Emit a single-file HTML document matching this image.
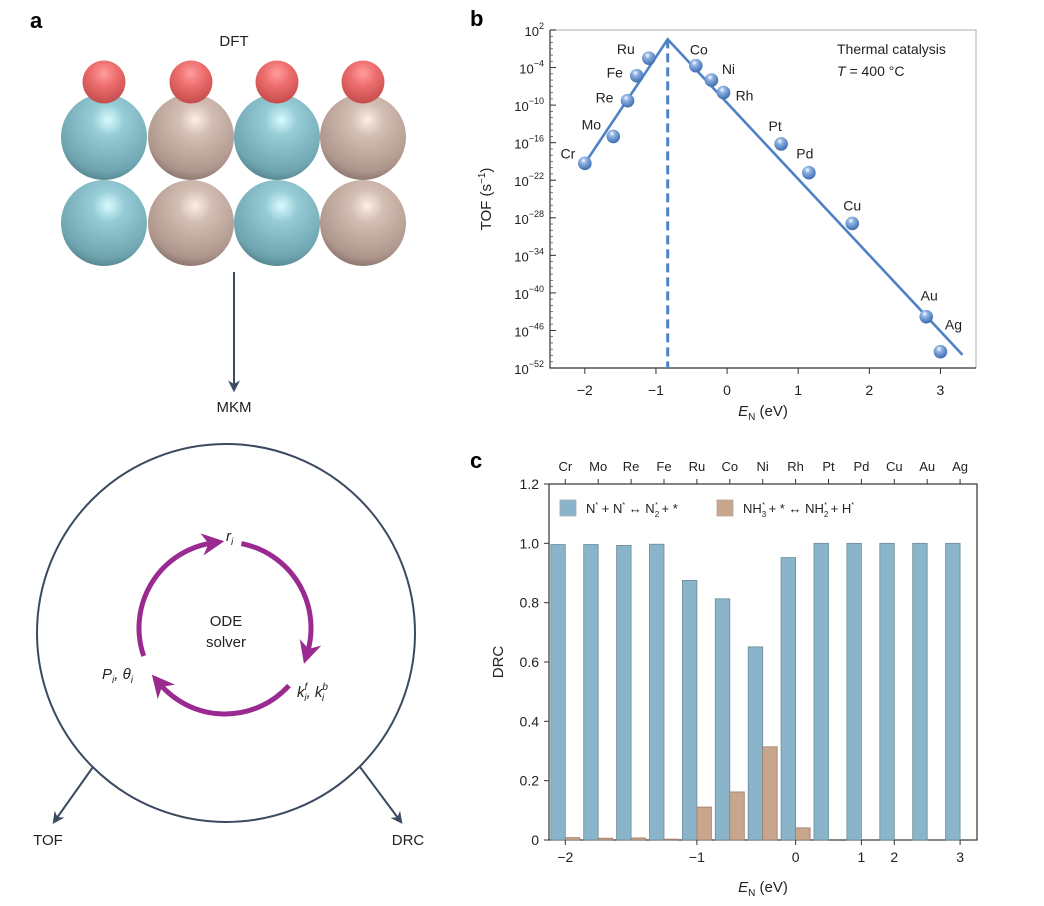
<!DOCTYPE html>
<html><head><meta charset="utf-8"><style>
html,body{margin:0;padding:0;background:#fff;}
svg{display:block;font-family:"Liberation Sans",sans-serif;}
</style></head><body>
<svg id="fig" width="1044" height="906" viewBox="0 0 1044 906" xmlns="http://www.w3.org/2000/svg">
<defs>
<radialGradient id="gTeal" cx="0.55" cy="0.3" r="0.75"><stop offset="0" stop-color="#d8fbff"/><stop offset="0.25" stop-color="#96ccd6"/><stop offset="0.8" stop-color="#6fa5b0"/><stop offset="1" stop-color="#4d7c86"/></radialGradient>
<radialGradient id="gBrown" cx="0.55" cy="0.3" r="0.75"><stop offset="0" stop-color="#fdeee6"/><stop offset="0.25" stop-color="#d4bfb5"/><stop offset="0.8" stop-color="#ae968c"/><stop offset="1" stop-color="#7f6b64"/></radialGradient>
<radialGradient id="gRed" cx="0.5" cy="0.3" r="0.75"><stop offset="0" stop-color="#ff9d9d"/><stop offset="0.4" stop-color="#ee6e6e"/><stop offset="1" stop-color="#c04848"/></radialGradient>
<radialGradient id="gBall" cx="0.4" cy="0.3" r="0.7"><stop offset="0" stop-color="#ffffff"/><stop offset="0.3" stop-color="#8fb3e3"/><stop offset="1" stop-color="#3d6cb0"/></radialGradient>
<marker id="arrDark" viewBox="0 0 10 10" refX="8" refY="5" markerWidth="6" markerHeight="6" orient="auto"><path d="M0,0 L10,5 L0,10 L3,5 Z" fill="#3c4a60"/></marker>
<marker id="arrPurple" viewBox="0 0 10 10" refX="5" refY="5" markerWidth="4.5" markerHeight="4.5" orient="auto"><path d="M0,0 L10,5 L0,10 L3,5 Z" fill="#9b2a90"/></marker>
</defs>

<!-- Panel a -->
<text x="30" y="28" font-size="22" font-weight="bold">a</text>
<text x="234" y="46" font-size="15" text-anchor="middle" fill="#222">DFT</text>
<g id="spheres"></g>
<line x1="234" y1="272" x2="234" y2="390" stroke="#3c4a60" stroke-width="2" marker-end="url(#arrDark)"/>
<text x="234" y="412" font-size="15" text-anchor="middle" fill="#222">MKM</text>
<circle cx="226" cy="633" r="189" fill="none" stroke="#3c4a60" stroke-width="2"/>
<g id="loop"></g>
<text x="226" y="626" font-size="15" text-anchor="middle" fill="#222">ODE</text>
<text x="226" y="647" font-size="15" text-anchor="middle" fill="#222">solver</text>
<text x="226" y="541" font-size="15" font-style="italic" fill="#222">r<tspan font-size="10" dy="4">i</tspan></text>
<text x="102" y="679" font-size="15" font-style="italic" fill="#222">P<tspan font-size="10" dy="4">i</tspan><tspan dy="-4">, θ</tspan><tspan font-size="10" dy="4">i</tspan></text>
<text x="297" y="697" font-size="15" font-style="italic" fill="#222">k<tspan font-size="10" dy="-7">f</tspan><tspan font-size="10" dx="-3" dy="11">i</tspan><tspan dy="-4">, k</tspan><tspan font-size="10" dy="-7">b</tspan><tspan font-size="10" dx="-6" dy="11">i</tspan></text>
<line x1="93" y1="767" x2="54" y2="822" stroke="#3c4a60" stroke-width="2" marker-end="url(#arrDark)"/>
<line x1="360" y1="767" x2="401" y2="822" stroke="#3c4a60" stroke-width="2" marker-end="url(#arrDark)"/>
<text x="48" y="845" font-size="15" text-anchor="middle" fill="#222">TOF</text>
<text x="408" y="845" font-size="15" text-anchor="middle" fill="#222">DRC</text>

<!-- Panel b -->
<text x="470" y="26" font-size="22" font-weight="bold">b</text>
<g id="chartB"></g>
<!-- Panel c -->
<text x="470" y="468" font-size="22" font-weight="bold">c</text>
<g id="chartC"></g>
</svg>
<script>
// ---- Panel b data ----
const metalsB = ["Cr","Mo","Re","Fe","Ru","Co","Ni","Rh","Pt","Pd","Cu","Au","Ag"];
const enB = [-2.0,-1.6,-1.4,-1.27,-1.1,-0.44,-0.22,-0.05,0.76,1.15,1.76,2.8,3.0];
const logTof = [-19.3,-15.0,-9.3,-5.3,-2.5,-3.7,-6.0,-8.0,-16.2,-20.8,-28.9,-43.8,-49.4];
const volcanoX = [-2.0,-0.835,3.31];
const volcanoY = [-19.3,0.5,-49.9];
const peakX = -0.835;
const xTicksB = [-2,-1,0,1,2,3];
const yTicksB = [2,-4,-10,-16,-22,-28,-34,-40,-46,-52];
// ---- Panel c data ----
const metalsC = ["Cr","Mo","Re","Fe","Ru","Co","Ni","Rh","Pt","Pd","Cu","Au","Ag"];
const drcN2 = [0.996,0.996,0.993,0.997,0.875,0.813,0.651,0.952,1,1,1,1,1];
const drcNH3 = [0.008,0.006,0.007,0.003,0.111,0.162,0.314,0.041,0,0,0,0,0];
const yTicksC = [0,0.2,0.4,0.6,0.8,1.0,1.2];
const yTickLabelsC = ["0","0.2","0.4","0.6","0.8","1.0","1.2"];
const bottomTickIdx = [0,4,7,9,10,12];
const bottomTickLabels = ["−2","−1","0","1","2","3"];

const NS="http://www.w3.org/2000/svg";
function mk(tag, attrs, parent){const e=document.createElementNS(NS,tag);for(const k in attrs)e.setAttribute(k,attrs[k]);parent.appendChild(e);return e;}

// spheres
(function(){
  const g=document.getElementById('spheres');
  const xs=[104,191,277,363];
  [223,137].forEach((cy,row)=>{xs.forEach((cx,i)=>{
    const c=mk('circle',{cx:cx,cy:cy,r:43,fill:i%2?'url(#gBrown)':'url(#gTeal)'},g);
    
    
  });});
  xs.forEach(cx=>{
    const c=mk('circle',{cx:cx,cy:82,r:21.5,fill:'url(#gRed)'},g);
    
    
  });
  const lg=document.getElementById('loop');
  const cx=225,cy=628,r=86;
  const arcs=[[161,262],[-79,17],[42,140]];
  arcs.forEach(a=>{
    const a0=a[0]*Math.PI/180,a1=a[1]*Math.PI/180;
    const x0=cx+r*Math.cos(a0),y0=cy+r*Math.sin(a0),x1=cx+r*Math.cos(a1),y1=cy+r*Math.sin(a1);
    const p=mk('path',{d:`M${x0},${y0} A${r},${r} 0 0 1 ${x1},${y1}`,fill:'none',stroke:'#9b2a90','stroke-width':5,'marker-end':'url(#arrPurple)'},lg);
    
    
  });
})();

// Panel b chart
(function(){
  const g=document.getElementById('chartB');
  const L=550,R=976,T=30,B=368;
  const xMin=-2.49,xMax=3.5,yMin=-52,yMax=2;
  const sx=v=>L+(v-xMin)/(xMax-xMin)*(R-L);
  const sy=v=>B-(v-yMin)/(yMax-yMin)*(B-T);
  mk('path',{d:`M${L},${T} H${R} V${B}`,fill:'none',stroke:'#c8c8c8','stroke-width':1.5},g);
  const ax=mk('path',{d:`M${L},${T} V${B} H${R}`,fill:'none',stroke:'#333','stroke-width':1.2},g);
  
  
  for(let d=yMin; d<=yMax; d++){
    mk('line',{x1:L,x2:L+3,y1:sy(d),y2:sy(d),stroke:'#555','stroke-width':0.8},g);
  }
  yTicksB.forEach(d=>{
    mk('line',{x1:L,x2:L+6,y1:sy(d),y2:sy(d),stroke:'#333','stroke-width':1},g);
    const t=mk('text',{x:L-6,y:sy(d)+6,'font-size':13,'text-anchor':'end',fill:'#222'},g);
    t.innerHTML=`10<tspan font-size="9" dy="-7">${d<0?'−'+(-d):d}</tspan>`;
    
    
  });
  xTicksB.forEach(v=>{
    mk('line',{x1:sx(v),x2:sx(v),y1:B,y2:B+6,stroke:'#333','stroke-width':1},g);
    const t=mk('text',{x:sx(v),y:B+27,'font-size':14,'text-anchor':'middle',fill:'#222'},g);
    t.textContent=v<0?'−'+(-v):String(v);
    
    
  });
  const xt=mk('text',{x:(L+R)/2,y:416,'font-size':15,'text-anchor':'middle',fill:'#222'},g);
  xt.innerHTML='<tspan font-style="italic">E</tspan><tspan font-size="10" dy="4">N</tspan><tspan dy="-4"> (eV)</tspan>';
  
  
  const yt=mk('text',{x:0,y:0,'font-size':15,'text-anchor':'middle',fill:'#222',transform:`translate(491,${(T+B)/2}) rotate(-90)`},g);
  yt.innerHTML='TOF (s<tspan font-size="10" dy="-6">−1</tspan><tspan dy="6">)</tspan>';
  
  
  const dl=mk('line',{x1:sx(peakX),x2:sx(peakX),y1:sy(volcanoY[1]),y2:B,stroke:'#4f82c4','stroke-width':3,'stroke-dasharray':'9,5'},g);
  
  
  const pts=volcanoX.map((x,i)=>sx(x)+','+sy(volcanoY[i])).join(' ');
  const vl=mk('polyline',{points:pts,fill:'none',stroke:'#4f82c4','stroke-width':2.6},g);
  
  
  const off=[[-17,-10],[-22,-12],[-23,-3],[-22,-3],[-23,-9],[3,-16],[17,-11],[21,3],[-6,-18],[-4,-19],[0,-18],[3,-21],[13,-27]];
  metalsB.forEach((m,i)=>{
    const c=mk('circle',{cx:sx(enB[i]),cy:sy(logTof[i]),r:6.8,fill:'url(#gBall)'},g);
    
    
    const t=mk('text',{x:sx(enB[i])+off[i][0],y:sy(logTof[i])+off[i][1]+5,'font-size':14,'text-anchor':'middle',fill:'#222'},g);
    t.textContent=m;
    
    
  });
  const a1=mk('text',{x:837,y:54,'font-size':14,fill:'#222'},g);
  a1.textContent='Thermal catalysis';
  
  
  const a2=mk('text',{x:837,y:76,'font-size':14,fill:'#222'},g);
  a2.innerHTML='<tspan font-style="italic">T</tspan> = 400 °C';
  
  
})();

// Panel c chart
(function(){
  const g=document.getElementById('chartC');
  const L=549,R=977,T=484,B=840;
  const cx0=565.3,step=32.9,bw=14.5;
  const sy=v=>B-v/1.2*(B-T);
  const cxi=i=>cx0+i*step;
  mk('rect',{x:L,y:T,width:R-L,height:B-T,fill:'none',stroke:'#333','stroke-width':1.2},g);
  yTicksC.forEach((v,i)=>{
    mk('line',{x1:L-5,x2:L,y1:sy(v),y2:sy(v),stroke:'#333','stroke-width':1},g);
    const t=mk('text',{x:L-10,y:sy(v)+5,'font-size':14,'text-anchor':'end',fill:'#222'},g);
    t.textContent=yTickLabelsC[i];
    
    
  });
  metalsC.forEach((m,i)=>{
    mk('line',{x1:cxi(i),x2:cxi(i),y1:T-5,y2:T,stroke:'#333','stroke-width':1},g);
    const t=mk('text',{x:cxi(i),y:T-13,'font-size':13,'text-anchor':'middle',fill:'#222'},g);
    t.textContent=m;
    
    
    const b1=mk('rect',{x:cxi(i)-bw,y:sy(drcN2[i]),width:bw,height:B-sy(drcN2[i]),fill:'#89b4c9',stroke:'#6b8a99','stroke-width':0.8},g);
    
    
    if(drcNH3[i]>0){
      const b2=mk('rect',{x:cxi(i),y:sy(drcNH3[i]),width:bw,height:B-sy(drcNH3[i]),fill:'#c9a58c',stroke:'#9a7e6c','stroke-width':0.8},g);
      
      
    }
  });
  bottomTickIdx.forEach((idx,i)=>{
    mk('line',{x1:cxi(idx),x2:cxi(idx),y1:B,y2:B+5,stroke:'#333','stroke-width':1},g);
    const t=mk('text',{x:cxi(idx),y:B+22,'font-size':14,'text-anchor':'middle',fill:'#222'},g);
    t.textContent=bottomTickLabels[i];
    
    
  });
  const xt=mk('text',{x:(L+R)/2,y:892,'font-size':15,'text-anchor':'middle',fill:'#222'},g);
  xt.innerHTML='<tspan font-style="italic">E</tspan><tspan font-size="10" dy="4">N</tspan><tspan dy="-4"> (eV)</tspan>';
  
  
  const yt=mk('text',{x:0,y:0,'font-size':15,'text-anchor':'middle',fill:'#222',transform:`translate(503,${(T+B)/2}) rotate(-90)`},g);
  yt.textContent='DRC';
  
  
  const s1=mk('rect',{x:560,y:500,width:16,height:16,fill:'#89b4c9',stroke:'#aaa','stroke-width':0.8},g);
  
  
  const t1=mk('text',{x:586,y:513,'font-size':13,fill:'#222'},g);
  t1.innerHTML='N<tspan font-size="7" dy="-6">*</tspan><tspan dy="6"> + N</tspan><tspan font-size="7" dy="-6">*</tspan><tspan dy="6"> ↔ N</tspan><tspan font-size="8" dy="4">2</tspan><tspan font-size="7" dx="-4" dy="-10">*</tspan><tspan dy="6"> + *</tspan>';
  
  
  const s2=mk('rect',{x:717,y:500,width:16,height:16,fill:'#c9a58c',stroke:'#aaa','stroke-width':0.8},g);
  
  
  const t2=mk('text',{x:743,y:513,'font-size':13,fill:'#222'},g);
  t2.innerHTML='NH<tspan font-size="8" dy="4">3</tspan><tspan font-size="7" dx="-4" dy="-10">*</tspan><tspan dy="6"> + * ↔ NH</tspan><tspan font-size="8" dy="4">2</tspan><tspan font-size="7" dx="-4" dy="-10">*</tspan><tspan dy="6"> + H</tspan><tspan font-size="7" dy="-6">*</tspan>';
  
  
})();
</script>
</body></html>
